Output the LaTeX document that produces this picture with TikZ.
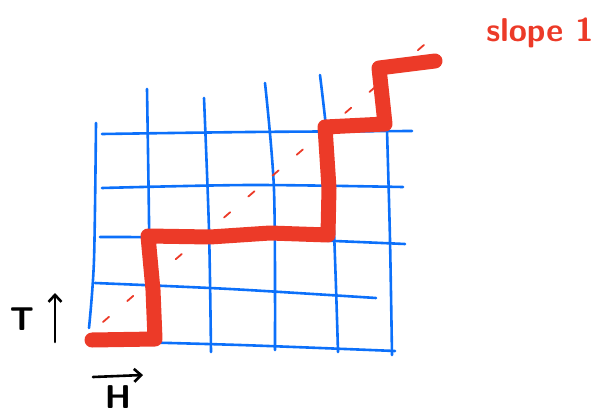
\documentclass[tikz,border=0pt]{standalone}
\usetikzlibrary{arrows.meta}
\definecolor{gridblue}{RGB}{12,112,250}
\definecolor{penred}{RGB}{236,58,40}
\begin{document}
\begin{tikzpicture}[x=1pt, y=-1pt, line cap=round, line join=round,
    gridline/.style={gridblue, line width=2.6pt},
    walk/.style={penred, line width=15pt},
    axisarrow/.style={black, line width=2.6pt, -{Straight Barb[length=7pt,width=13pt]}},
    every node/.style={inner sep=0pt, font=\sffamily\bfseries\fontsize{33}{33}\selectfont}]
  \useasboundingbox (0,0) rectangle (597,415);
  % hand-drawn grid: verticals, then horizontals
  \foreach \xa/\ya/\xb/\yb/\xc/\yc in {96/123/94/260/89/328, 147/89/149/220/150/343,
      204/98/209/230/211/352, 265/83/274/190/275/350, 320/75/332/190/338/352, 387/130/390/240/392/355}
    \draw[gridline] plot[smooth] coordinates {(\xa,\ya) (\xb,\yb) (\xc,\yc)};
  \foreach \xa/\ya/\xb/\yb/\xc/\yc in {102/134/250/132/412/131, 102/188/250/185/403/187,
      100/237/250/238/405/244, 95/283/230/289/376/298, 92/341/240/345/395/351}
    \draw[gridline] plot[smooth] coordinates {(\xa,\ya) (\xb,\yb) (\xc,\yc)};
  % diagonal of slope 1
  \coordinate (d0) at (103,322);
  \coordinate (d1) at (432,38);
  \draw[penred, line width=1.8pt, dash pattern=on 8pt off 24pt] (d0) -- (d1);
  % the walk
  \draw[walk] (92,340) -- (155,339) -- (153,290) -- (148,236) -- (210,237) -- (270,233)
    -- (328,235) -- (329,188) -- (325,127) -- (385,124) -- (379,68) -- (435,61);
  \node[text=penred, font=\sffamily\bfseries\fontsize{33}{33}\selectfont] (slope) at (540,33) {slope 1};
  % axes
  \node (T) at (22,319) {T};
  \coordinate (t0) at (55,342);
  \coordinate (t1) at (55,293);
  \draw[axisarrow] (t0) -- (t1);
  \node (H) at (118,397) {H};
  \coordinate (h0) at (93,377);
  \coordinate (h1) at (143,375);
  \draw[axisarrow] (h0) -- (h1);
\end{tikzpicture}
\end{document}
